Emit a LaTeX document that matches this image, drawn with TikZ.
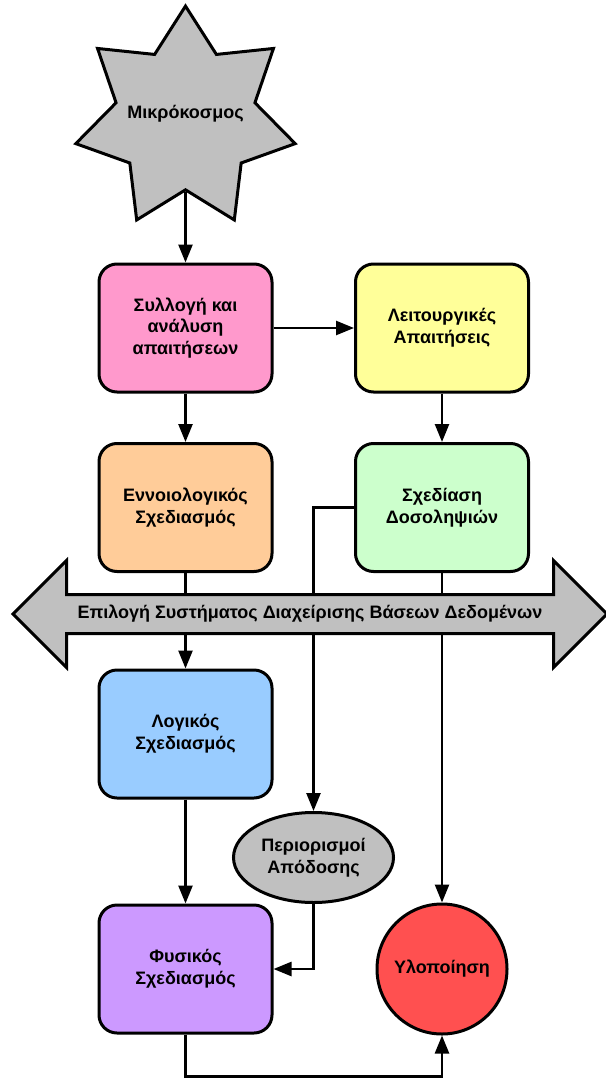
\documentclass[tikz,border=0pt]{standalone}
\usepackage{fontspec}
\setmainfont{Liberation Sans}
\usepackage{xcolor}
\usepackage{tikz}
\usetikzlibrary{shapes.geometric, shapes.arrows, arrows.meta, positioning}

\definecolor{reqpink}{HTML}{FF99CC}
\definecolor{funcyellow}{HTML}{FFFF99}
\definecolor{concorange}{HTML}{FFCC99}
\definecolor{transgreen}{HTML}{CCFFCC}
\definecolor{logicblue}{HTML}{99CCFF}
\definecolor{physpurple}{HTML}{CC99FF}
\definecolor{implred}{HTML}{FF5050}
\definecolor{shadegrey}{HTML}{C0C0C0}

\begin{document}
\begin{tikzpicture}[x=1pt, y=1pt, on grid, node distance=179.5pt and 256.5pt,
        >={Triangle[length=18pt, width=14pt]}, line width=2.5pt,
        every node/.style={font=\bfseries\fontsize{18}{21.7}\selectfont, align=center},
        stage/.style={draw, line width=3pt, rounded corners=18pt,
            minimum width=173pt, minimum height=128pt},
        cosmos/.style={star, star points=7, star point ratio=1.58, minimum size=225pt,
            inner sep=0pt, draw, line width=3pt, fill=shadegrey},
        limits/.style={ellipse, minimum width=160pt, minimum height=90pt,
            inner sep=0pt, draw, line width=3pt, fill=shadegrey},
        goal/.style={circle, minimum size=130pt, inner sep=0pt, draw,
            line width=3pt, fill=implred},
        dbms/.style={double arrow, double arrow head extend=34pt, minimum height=594pt,
            text height=13.5pt, text depth=4.5pt, inner ysep=9pt,
            draw, line width=3pt, fill=shadegrey}]
        \useasboundingbox (0,0) rectangle (605,-1078);

        \node[cosmos] (micro) at (185.5,-118.6) {\smash{\makebox[0pt]{Μικρόκοσμος}}};
        \node[stage, fill=reqpink] (req) at (185.5,-328) {Συλλογή και\\ανάλυση\\απαιτήσεων};
        \node[stage, fill=funcyellow] (func) [right=of req] {Λειτουργικές\\Απαιτήσεις};
        \node[stage, fill=concorange] (concept) [below=of req] {Εννοιολογικός\\Σχεδιασμός};
        \node[stage, fill=transgreen] (trans) [below=of func] {Σχεδίαση\\Δοσοληψιών};
        \node[stage, fill=logicblue] (logic) [below=226.5pt of concept] {Λογικός\\Σχεδιασμός};
        \node[limits] (perf) at (313.5,-857.5) {Περιορισμοί\\Απόδοσης};
        \node[stage, fill=physpurple] (phys) [below=235pt of logic] {Φυσικός\\Σχεδιασμός};
        \node[goal] (impl) [right=of phys] {Υλοποίηση};

        \path[->]
        (micro) edge (req)
        (req) edge (func)
              edge (concept)
        (func) edge (trans)
        (concept) edge (logic)
        (trans) edge (impl)
        (logic) edge (phys);

        \draw[->] (trans.west) -| (perf.north);
        \draw[->] (perf.south) |- (phys.east);
        \draw[->] (phys.south) -- ++(0,-42) -| (impl.south);

        % the DBMS choice lies across every path
        \node[dbms] (choice) at (310,-614) {Επιλογή Συστήματος Διαχείρισης Βάσεων Δεδομένων};

    \end{tikzpicture}
\end{document}
